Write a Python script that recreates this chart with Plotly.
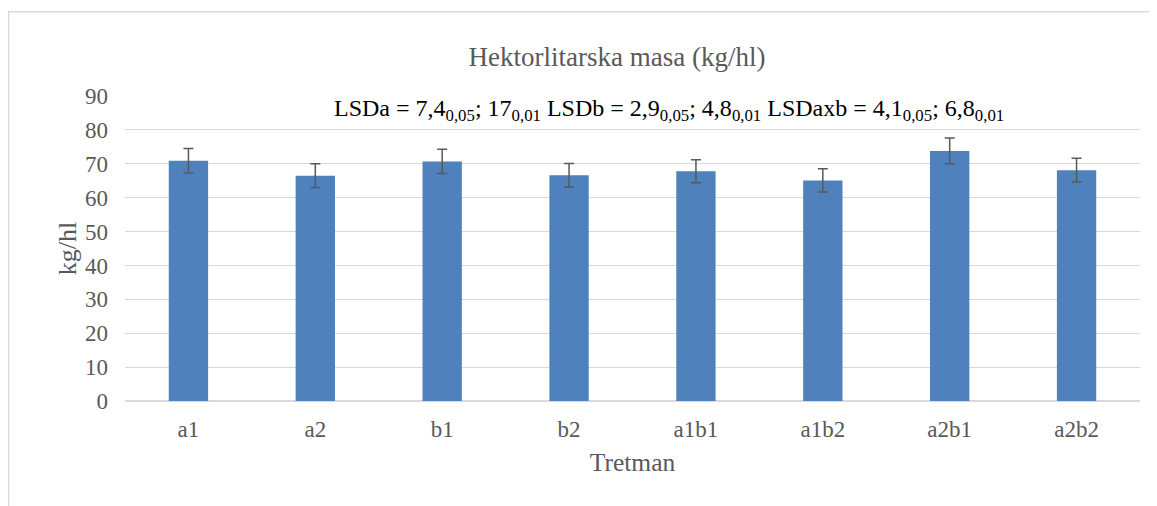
import plotly.graph_objects as go

categories = ["a1", "a2", "b1", "b2", "a1b1", "a1b2", "a2b1", "a2b2"]
values = [70.9, 66.5, 70.7, 66.6, 67.8, 65.1, 73.8, 68.1]
errors = [3.6, 3.5, 3.6, 3.5, 3.4, 3.4, 3.8, 3.5]
y_ticks = [0, 10, 20, 30, 40, 50, 60, 70, 80, 90]

font_family = "Liberation Serif, Times New Roman, serif"
grey = "#595959"

fig = go.Figure()
fig.add_trace(go.Bar(
    x=categories, y=values,
    marker=dict(color="#4f81bd", line=dict(width=0)),
    width=0.31,
    error_y=dict(type="data", array=errors, visible=True, color=grey,
                 thickness=1.5, width=5),
))

fig.update_layout(
    width=1149, height=498,
    margin=dict(l=117, r=17, t=88, b=105),
    paper_bgcolor="white", plot_bgcolor="white",
    showlegend=False,
    font=dict(family=font_family, color=grey, size=23),
    title=dict(text="Hektorlitarska masa (kg/hl)", x=0.530, xanchor="center",
               y=0.9016, yanchor="middle", font=dict(size=27, color=grey, family=font_family)),
    xaxis=dict(title=dict(text="Tretman", font=dict(size=25.5, color=grey), standoff=12),
               tickfont=dict(size=23, color=grey), showgrid=False,
               showline=True, linecolor="#d9d9d9", ticks="", ticklabelstandoff=7),
    yaxis=dict(title=dict(text="kg/hl", font=dict(size=26, color=grey), standoff=0),
               range=[0, 90], tickvals=y_ticks, tickfont=dict(size=23, color=grey),
               showgrid=True, gridcolor="#d9d9d9", gridwidth=1,
               zeroline=True, zerolinecolor="#d9d9d9", ticks="", ticklabelstandoff=16),
)

fig.add_annotation(
    text="LSDa = 7,4<sub>0,05</sub>; 17<sub>0,01</sub> LSDb = 2,9<sub>0,05</sub>; 4,8<sub>0,01</sub> LSDaxb = 4,1<sub>0,05</sub>; 6,8<sub>0,01</sub>",
    xref="paper", yref="paper", x=0.536, y=0.954, xanchor="center", yanchor="middle",
    showarrow=False, font=dict(size=24, color="black", family=font_family),
)

fig.add_shape(type="rect", xref="paper", yref="paper",
              x0=-0.1148, x1=1.2, y0=-0.5, y1=1.2764,
              line=dict(color="#d9d9d9", width=1.5), layer="below")

fig.write_html("out.html")
